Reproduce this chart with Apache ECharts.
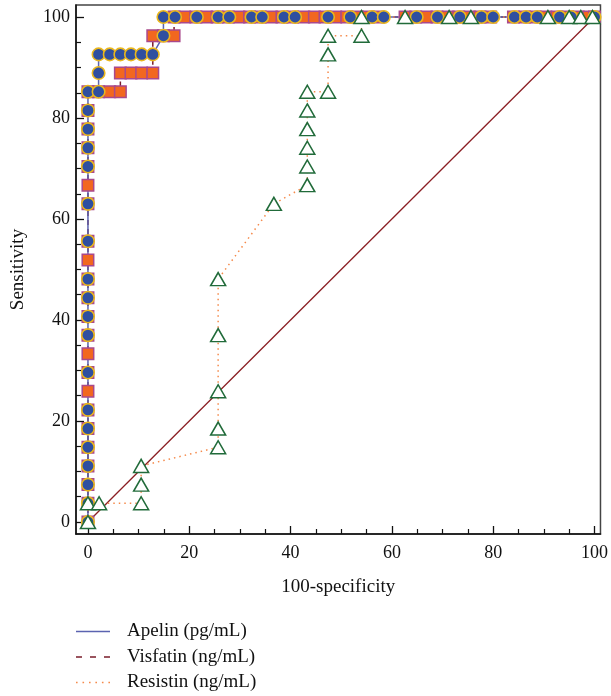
<!DOCTYPE html>
<html>
<head>
<meta charset="utf-8">
<script src="https://cdn.jsdelivr.net/npm/echarts@6/dist/echarts.min.js"></script>
<style>
html, body { margin: 0; padding: 0; background: #fff; }
#roc { width: 611px; height: 696px; }
</style>
</head>
<body>
<div id="roc"></div>
<script>
// ROC points (x = 100-specificity, y = sensitivity)
var apelinX = [0, 0, 0, 0, 0, 0, 0, 0, 0, 0, 0, 0, 0, 0, 0, 0, 0, 0, 0,
	2.1, 2.1, 2.1, 4.3, 6.4, 8.5, 10.6, 12.8, 14.9, 14.9, 17.2, 21.5, 25.7, 27.9, 32.3, 34.4,
	38.7, 40.9, 47.4, 51.8, 56.1, 58.4, 64.9, 69.0, 73.4, 77.7, 80.0, 84.2, 86.5, 88.7, 93.1, 95.4, 100];
var apelinY = [0, 3.7, 7.4, 11.1, 14.8, 18.5, 22.2, 29.6, 37.0, 40.7, 44.4, 48.1, 55.6, 63.0, 70.4, 74.1, 77.8, 81.5, 85.2,
	85.2, 88.9, 92.6, 92.6, 92.6, 92.6, 92.6, 92.6, 96.3, 100, 100, 100, 100, 100, 100, 100,
	100, 100, 100, 100, 100, 100, 100, 100, 100, 100, 100, 100, 100, 100, 100, 100, 100];

var visfatinX = [0, 0, 0, 0, 0, 0, 0, 0, 0, 0, 0, 0, 0, 0, 0, 0, 0, 0, 0, 0, 0, 0, 0,
	2.1, 4.3, 6.4, 6.4, 8.5, 10.6, 12.8, 12.8, 14.9, 17.0, 17.0, 19.1, 21.3, 23.4, 25.5, 27.7,
	29.8, 31.9, 34.0, 36.2, 38.3, 40.4, 42.6, 44.7, 46.8, 48.9, 51.1, 53.2, 55.3, 57.4,
	62.6, 64.7, 66.8, 68.9, 71.1, 73.2, 75.3, 77.4, 79.5, 84.0, 86.2, 88.3, 90.4, 92.6, 94.7, 96.8, 98.9, 100];
var visfatinY = [0, 3.7, 7.4, 11.1, 14.8, 18.5, 22.2, 25.9, 29.6, 33.3, 37.0, 40.7, 44.4, 48.1, 51.9, 55.6, 63.0, 66.7, 70.4, 74.1, 77.8, 81.5, 85.2,
	85.2, 85.2, 85.2, 88.9, 88.9, 88.9, 88.9, 96.3, 96.3, 96.3, 100, 100, 100, 100, 100, 100,
	100, 100, 100, 100, 100, 100, 100, 100, 100, 100, 100, 100, 100, 100,
	100, 100, 100, 100, 100, 100, 100, 100, 100, 100, 100, 100, 100, 100, 100, 100, 100, 100];

var resistinX = [0, 0, 2.2, 10.5, 10.5, 10.5, 25.7, 25.7, 25.7, 25.7, 25.7, 36.7, 43.3, 43.3, 43.3, 43.3, 43.3, 43.3,
	47.4, 47.4, 47.4, 54.0, 54.0, 62.6, 71.3, 75.6, 90.8, 95.0, 97.3, 99.6];
var resistinY = [0, 3.7, 3.7, 3.7, 7.4, 11.1, 14.8, 18.5, 25.9, 37.0, 48.1, 63.0, 66.7, 70.4, 74.1, 77.8, 81.5, 85.2,
	85.2, 92.6, 96.3, 96.3, 100, 100, 100, 100, 100, 100, 100, 100];

var diagonal = [[0, 0], [100, 100]];

var majorTicks = [0, 20, 40, 60, 80, 100];
var minorTicks = [5, 10, 15, 25, 30, 35, 45, 50, 55, 65, 70, 75, 85, 90, 95];

var legendNames = ['Apelin (pg/mL)', 'Visfatin (ng/mL)', 'Resistin (ng/mL)'];

function pairs(xs, ys) {
	var out = [];
	for (var i = 0; i < xs.length; i++) {
		out.push([xs[i], ys[i]]);
	}
	return out;
}

var serif = 'Liberation Serif';
var myChart = echarts.init(document.getElementById('roc'));

var option = {
	backgroundColor: '#fff',
	animation: false,
	grid: {
		left: 76,
		right: 8,
		top: 5,
		bottom: 162,
		show: true,
		borderColor: '#444',
		borderWidth: 1.5
	},
	legend: {
		orient: 'vertical',
		left: 76,
		top: 621,
		padding: 0,
		itemWidth: 34,
		itemHeight: 2,
		itemGap: 4.5,
		textStyle: { fontFamily: serif, fontSize: 19, color: '#111', lineHeight: 21, padding: [0, 0, 0, 12] },
		data: [
			{ name: legendNames[0], icon: 'path://M0,0h34v1.6h-34z', itemStyle: { color: '#5b63b0', borderWidth: 0 } },
			{ name: legendNames[1], icon: 'path://M0,0h6v1.6h-6z M14,0h6v1.6h-6z M28,0h6v1.6h-6z', itemStyle: { color: '#7a1c2a', borderWidth: 0 } },
			{ name: legendNames[2], icon: 'path://M0,0h1.6v1.6h-1.6z M6.5,0h1.6v1.6h-1.6z M13,0h1.6v1.6h-1.6z M19.4,0h1.6v1.6h-1.6z M25.9,0h1.6v1.6h-1.6z M32.4,0h1.6v1.6h-1.6z', itemStyle: { color: '#f58a4b', borderWidth: 0 } }
		]
	},
	xAxis: [{
			type: 'value',
			min: -2.36,
			max: 101.18,
			name: '100-specificity',
			nameLocation: 'middle',
			nameGap: 44,
			nameTextStyle: { fontFamily: serif, fontSize: 19, color: '#111' },
			axisLine: { onZero: false, lineStyle: { color: '#111', width: 1.5 } },
			axisTick: { inside: true, length: 8, customValues: majorTicks, lineStyle: { color: '#111', width: 1.3 } },
			axisLabel: { customValues: majorTicks, fontFamily: serif, fontSize: 18, color: '#111', margin: 10 },
			splitLine: { show: false }
		},
		{
			type: 'value',
			position: 'bottom',
			min: -2.36,
			max: 101.18,
			axisLine: { show: false, onZero: false },
			axisTick: { inside: true, length: 5, customValues: minorTicks, lineStyle: { color: '#111', width: 1.2 } },
			axisLabel: { show: false },
			splitLine: { show: false }
		}
	],
	yAxis: [{
			type: 'value',
			min: -2.38,
			max: 102.38,
			name: 'Sensitivity',
			nameLocation: 'middle',
			nameGap: 48,
			nameTextStyle: { fontFamily: serif, fontSize: 19, color: '#111' },
			axisLine: { show: true, onZero: false, lineStyle: { color: '#111', width: 1.5 } },
			axisTick: { show: true, inside: true, length: 8, customValues: majorTicks, lineStyle: { color: '#111', width: 1.3 } },
			axisLabel: { customValues: majorTicks, fontFamily: serif, fontSize: 18, color: '#111', margin: 6 },
			splitLine: { show: false }
		},
		{
			type: 'value',
			position: 'left',
			min: -2.38,
			max: 102.38,
			axisLine: { show: false, onZero: false },
			axisTick: { show: true, inside: true, length: 5, customValues: minorTicks, lineStyle: { color: '#111', width: 1.2 } },
			axisLabel: { show: false },
			splitLine: { show: false }
		}
	],
	series: [
		{
			name: 'diagonal',
			type: 'line',
			symbol: 'none',
			silent: true,
			lineStyle: { color: '#8b1f24', width: 1.3 },
			data: diagonal
		},
		{
			name: legendNames[1],
			type: 'line',
			symbol: 'rect',
			symbolSize: 11.5,
			lineStyle: { color: '#7a1c2a', width: 1.5, type: [5, 4] },
			itemStyle: { color: '#f2671f', borderColor: '#a9498c', borderWidth: 1.5 },
			data: pairs(visfatinX, visfatinY)
		},
		{
			name: legendNames[0],
			type: 'line',
			symbol: 'circle',
			symbolSize: 12.5,
			lineStyle: { color: '#5b63b0', width: 1.5 },
			itemStyle: { color: '#2f4fa0', borderColor: '#eab71d', borderWidth: 1.6 },
			data: pairs(apelinX, apelinY)
		},
		{
			name: legendNames[2],
			type: 'line',
			symbol: 'triangle',
			symbolSize: [15, 13],
			lineStyle: { color: '#f58a4b', width: 1.5, type: [1.5, 4] },
			itemStyle: { color: '#fff', borderColor: '#216b3a', borderWidth: 1.5 },
			data: pairs(resistinX, resistinY)
		}
	]
};

myChart.setOption(option);
</script>
</body>
</html>
